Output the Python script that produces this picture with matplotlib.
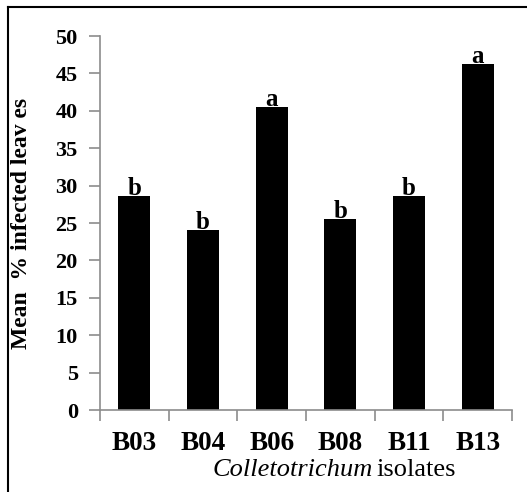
import numpy as np
import matplotlib
matplotlib.use('Agg')
import matplotlib.pyplot as plt
from matplotlib.lines import Line2D

# 数据
isolates = ['B03', 'B04', 'B06', 'B08', 'B11', 'B13']
mean_infected = [28.6, 24.1, 40.5, 25.6, 28.6, 46.3]
letters = ['b', 'b', 'a', 'b', 'b', 'a']

plt.rcParams['font.family'] = ['Liberation Serif', 'DejaVu Serif']

fig = plt.figure(figsize=(5.27, 4.92), dpi=100)
ax = fig.add_axes([100 / 527, 1 - 410 / 492, 412 / 527, 374 / 492])

x = np.arange(len(isolates))
ax.bar(x, mean_infected, width=0.47, color='black', zorder=2)
for xi, v, s in zip(x, mean_infected, letters):
    ax.text(xi, v + 0.1, s, ha='center', va='baseline', fontsize=18,
            fontweight='bold', zorder=3)

ax.set_xlim(-0.5, len(isolates) - 0.5)
ax.set_ylim(0, 50)
ax.set_yticks(np.arange(0, 51, 5))

# 刻度在分类边界上，标签在中间
ax.set_xticks(np.arange(-0.5, len(isolates), 1))
ax.set_xticklabels([])
ax.set_xticks(x, minor=True)
ax.set_xticklabels(isolates, minor=True, fontsize=19.5, fontweight='bold')
ax.tick_params(axis='x', which='major', direction='out', length=8,
               color='#8c8c8c', width=1.2)
ax.tick_params(axis='x', which='minor', length=0, pad=15)
ax.tick_params(axis='y', direction='out', length=8, color='#8c8c8c',
               width=1.2, pad=8, labelsize=16)
for lab in ax.get_yticklabels():
    lab.set_fontweight('bold')

for side in ['top', 'right']:
    ax.spines[side].set_visible(False)
for side in ['left', 'bottom']:
    ax.spines[side].set_color('#8c8c8c')
    ax.spines[side].set_linewidth(1.2)

ax.set_ylabel('Mean  % infected leav es', fontsize=17, fontweight='bold')
ax.yaxis.set_label_coords(-0.165, 0.5)

# x轴标题：斜体属名 + 正体
fig.text(373 / 527, 1 - 470 / 492, 'Colletotrichum', ha='right',
         va='center', fontsize=19, style='italic')
fig.text(376 / 527, 1 - 470 / 492, 'isolates', ha='left',
         va='center', fontsize=19)

# 外框（只有上边和左边可见）
fig.add_artist(Line2D([8 / 527, 1], [1 - 7 / 492, 1 - 7 / 492],
                      transform=fig.transFigure, color='black', lw=1.5))
fig.add_artist(Line2D([8 / 527, 8 / 527], [0, 1 - 7 / 492],
                      transform=fig.transFigure, color='black', lw=1.5))

fig.savefig('out.png', dpi=100)
